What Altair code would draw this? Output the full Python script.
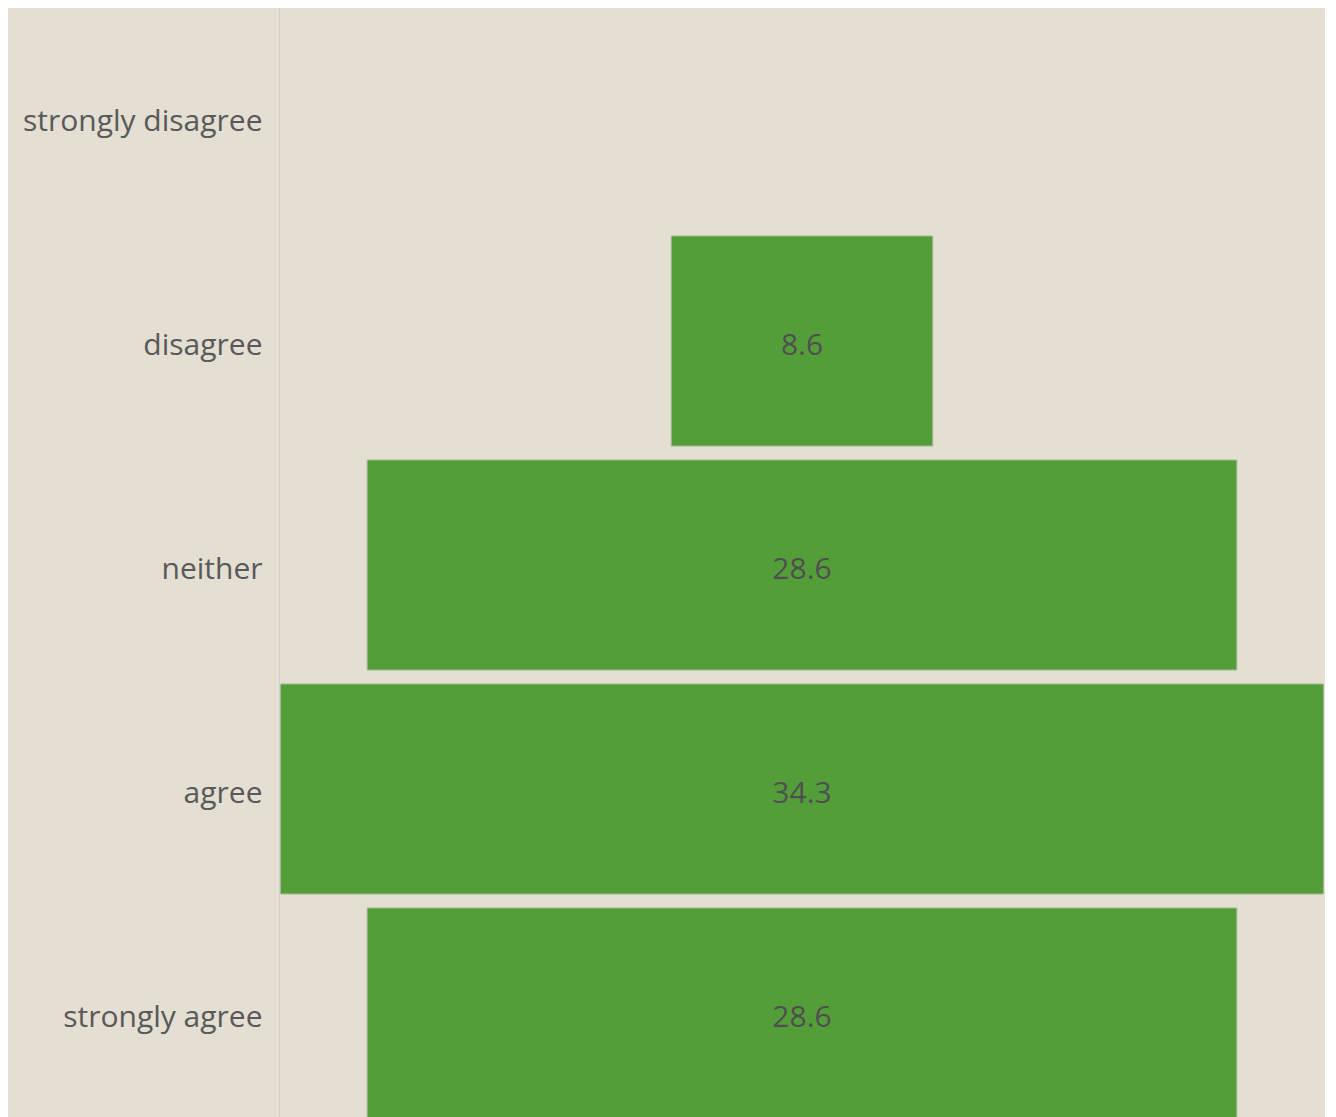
import altair as alt
import pandas as pd

categories = ["strongly disagree", "disagree", "neither", "agree", "strongly agree"]
values = [0.0, 8.6, 28.6, 34.3, 28.6]

df = pd.DataFrame({"category": categories, "value": values})

yscale = alt.Scale(domain=categories, paddingInner=0.0625, paddingOuter=0.01786)

yenc = alt.Y(
    "category:N",
    sort=categories,
    scale=yscale,
    axis=alt.Axis(
        title=None,
        ticks=False,
        grid=False,
        domain=True,
        domainColor="#cfd0cc",
        domainWidth=1,
        labelFontSize=30,
        labelColor="#595959",
        labelFont="Open Sans",
        labelPadding=17,
        labelOffset=5,
        labelLimit=400,
    ),
)

xscale = alt.Scale(domain=[-17.2, 17.2])

base = alt.Chart(df).transform_calculate(
    lo="-datum.value/2", hi="datum.value/2"
)

bars = base.transform_filter("datum.value > 0").mark_bar(
    color="#549e3a", stroke="#a3ba94", strokeWidth=1
).encode(
    x=alt.X("lo:Q", scale=xscale, axis=None),
    x2="hi:Q",
    y=yenc,
)

labels = base.transform_filter("datum.value > 0").mark_text(
    fontSize=30, font="Open Sans", color="#4f4f4f", baseline="middle", align="center", dy=5
).encode(
    x=alt.datum(0, scale=xscale),
    y=alt.Y("category:N", sort=categories, scale=yscale),
    text=alt.Text("value:Q", format=".1f"),
)

chart = (
    alt.layer(bars, labels)
    .properties(
        width=1046,
        height=1114,
        autosize=alt.AutoSizeParams(type="none"),
        padding={"left": 271, "top": 0, "right": 0, "bottom": 0},
        background="#e4ded3",
    )
    .configure_view(stroke=None)
)

chart.save("out.html", embed_options={"renderer": "svg", "actions": False})
